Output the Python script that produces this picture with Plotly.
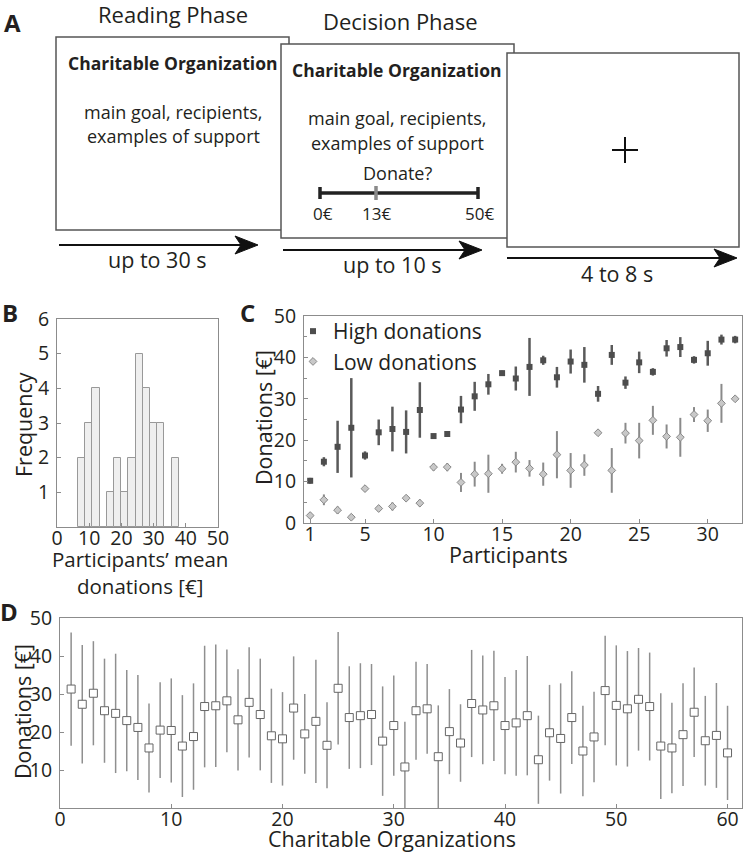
import plotly.graph_objects as go

# ---------------- data ----------------
# Panel B: histogram of participants' mean donations
hist_bin_centers = [7.62, 9.86, 12.10, 14.34, 16.58, 18.82, 21.06, 23.30, 25.54, 27.78, 30.02, 32.26, 34.50, 36.74]
hist_counts = [2, 3, 4, 0, 1, 2, 1, 2, 5, 4, 3, 3, 0, 2]
hist_bin_width = 2.24

# Panel C: per-participant high / low donations (mean, sd)
participants = list(range(1, 33))
high_mean = [10.2, 14.8, 18.4, 23.0, 16.3, 21.9, 22.7, 22.0, 27.3, 21.0, 21.5, 27.4, 30.6, 33.5, 36.2, 34.9,
             37.7, 39.3, 35.2, 39.0, 38.2, 31.2, 40.6, 33.9, 38.8, 36.5, 42.2, 42.5, 39.4, 41.0, 44.3, 44.3]
high_sd = [0.7, 1.1, 6.3, 12.0, 1.0, 3.1, 5.4, 5.2, 6.7, 0.3, 0.6, 3.3, 3.5, 2.5, 0.6, 2.9,
           7.0, 1.1, 2.5, 2.9, 4.3, 1.9, 2.4, 1.5, 2.6, 0.9, 2.0, 2.4, 0.9, 3.0, 1.2, 0.9]
low_mean = [1.8, 5.6, 3.1, 1.4, 8.3, 3.5, 4.0, 6.0, 4.8, 13.5, 13.5, 9.8, 11.8, 11.9, 13.1, 14.7,
            13.2, 11.8, 16.5, 12.7, 14.0, 21.8, 12.7, 21.7, 19.9, 24.8, 20.9, 20.7, 26.2, 24.7, 28.9, 30.0]
low_sd = [0.8, 1.3, 0.9, 0.7, 0.8, 0.8, 1.0, 0.3, 0.9, 0.9, 1.0, 2.3, 3.0, 4.6, 1.2, 2.5,
          2.0, 2.8, 5.7, 4.2, 2.6, 0.3, 5.4, 2.5, 4.3, 3.5, 2.9, 4.7, 1.8, 2.7, 4.7, 0.6]

# Panel D: donations per charitable organization (mean, sd)
organizations = list(range(1, 61))
org_mean = [31.3, 27.3, 30.2, 25.6, 24.9, 23.0, 21.2, 15.8, 20.5, 20.4, 16.3, 18.8, 26.7, 26.9, 28.2,
            23.2, 27.8, 24.6, 19.0, 18.2, 26.3, 19.5, 22.8, 16.5, 31.5, 23.8, 24.3, 24.6, 17.6, 21.7,
            10.8, 25.6, 26.1, 13.5, 20.1, 17.1, 27.5, 25.8, 26.9, 21.7, 22.4, 24.3, 12.7, 19.8, 18.3,
            23.8, 15.0, 18.7, 30.9, 27.0, 26.1, 28.6, 26.7, 16.3, 15.8, 19.3, 25.2, 17.7, 19.1, 14.5]
org_sd = [14.9, 15.6, 13.7, 13.7, 15.7, 13.3, 13.8, 11.7, 12.6, 13.7, 13.4, 14.0, 16.0, 16.1, 13.5,
          13.3, 14.5, 14.7, 12.4, 12.3, 13.6, 10.5, 16.2, 11.3, 14.8, 13.5, 13.8, 13.3, 14.4, 13.2,
          11.9, 12.9, 11.8, 13.5, 11.2, 10.2, 14.1, 14.3, 14.5, 12.8, 13.9, 15.7, 11.6, 12.6, 14.5,
          12.2, 11.9, 11.9, 14.4, 15.8, 15.2, 13.5, 14.2, 13.9, 11.9, 13.5, 11.8, 11.8, 13.8, 12.4]

# ---------------- layout helpers ----------------
W, H = 743, 853
FONT = "Open Sans"
TXT = "#231f20"


def px(x):
    return x / W


def py(y):
    return 1 - y / H


fig = go.Figure()

# Panel B
fig.add_trace(go.Bar(x=hist_bin_centers, y=hist_counts, width=hist_bin_width,
                     marker=dict(color="#efefef", line=dict(color="#999999", width=1)),
                     showlegend=False, xaxis="x", yaxis="y"))

# Panel C
fig.add_trace(go.Scatter(x=participants, y=high_mean, mode="markers", name="High donations",
                         marker=dict(symbol="square", size=6, color="#4d4d4d"),
                         error_y=dict(type="data", array=high_sd, color="#5a5a5a", thickness=2.5, width=0),
                         xaxis="x2", yaxis="y2"))
fig.add_trace(go.Scatter(x=participants, y=low_mean, mode="markers", name="Low donations",
                         marker=dict(symbol="diamond", size=6, color="#c8c8c8", line=dict(color="#888888", width=1)),
                         error_y=dict(type="data", array=low_sd, color="#8a8a8a", thickness=2, width=0),
                         xaxis="x2", yaxis="y2"))

# Panel D
fig.add_trace(go.Scatter(x=organizations, y=org_mean, mode="markers", showlegend=False,
                         marker=dict(symbol="square", size=8, color="white", line=dict(color="#666666", width=1)),
                         error_y=dict(type="data", array=org_sd, color="#8f8f8f", thickness=1.5, width=0),
                         xaxis="x3", yaxis="y3"))

axis_common = dict(showline=True, mirror=True, linecolor="#8c8c8c", linewidth=1, showgrid=False,
                   zeroline=False, ticks="inside", ticklen=4, tickcolor="#8c8c8c", automargin=False,
                   tickfont=dict(family=FONT, size=19.5, color=TXT))
xax = dict(ticklabelstandoff=-6, **axis_common)
yax = dict(ticklabelstandoff=3, **axis_common)

fig.update_layout(
    width=W, height=H, margin=dict(l=0, r=0, t=0, b=0),
    paper_bgcolor="white", plot_bgcolor="white",
    font=dict(family=FONT, color=TXT),
    bargap=0,
    xaxis=dict(domain=[px(57), px(218)], range=[0, 50], tickvals=[0, 10, 20, 30, 40, 50], anchor="y", **xax),
    yaxis=dict(domain=[py(527), py(319)], range=[0, 6], tickvals=[1, 2, 3, 4, 5, 6], anchor="x", **yax),
    xaxis2=dict(domain=[px(304), px(742)], range=[0.55, 32.5], tickvals=[1, 5, 10, 15, 20, 25, 30],
                anchor="y2", **xax),
    yaxis2=dict(domain=[py(523), py(316)], range=[0, 50], tickvals=[0, 10, 20, 30, 40, 50],
                minor=dict(tickvals=[5, 15, 25, 35, 45], ticks="inside", ticklen=3, tickcolor="#8c8c8c"),
                anchor="x2", **yax),
    xaxis3=dict(domain=[px(60), px(742)], range=[0, 61.3], tickvals=[0, 10, 20, 30, 40, 50, 60],
                anchor="y3", **xax),
    yaxis3=dict(domain=[py(808), py(618)], range=[0, 50], tickvals=[10, 20, 30, 40, 50], anchor="x3", **yax),
    legend=dict(x=px(293), y=py(311), xanchor="left", yanchor="top", bgcolor="rgba(0,0,0,0)",
                font=dict(family=FONT, size=21, color=TXT), tracegroupgap=0, itemwidth=30),
)

# ---------------- Panel A schematic ----------------
shapes = []


def rect(x0, y0, x1, y1):
    shapes.append(dict(type="rect", xref="paper", yref="paper", x0=px(x0), x1=px(x1), y0=py(y1), y1=py(y0),
                       fillcolor="white", line=dict(color="#555555", width=1.5), layer="above"))


def seg(x0, y0, x1, y1, color="#111111", width=2):
    shapes.append(dict(type="line", xref="paper", yref="paper", x0=px(x0), x1=px(x1), y0=py(y0), y1=py(y1),
                       line=dict(color=color, width=width)))


def arrow(x0, x1, y, head_len=23, half=9):
    seg(x0, y, x1 - 8, y, width=2.2)
    path = (f"M {px(x1)},{py(y)} L {px(x1 - head_len)},{py(y - half)} "
            f"L {px(x1 - head_len + 6)},{py(y)} L {px(x1 - head_len)},{py(y + half)} Z")
    shapes.append(dict(type="path", xref="paper", yref="paper", path=path,
                       fillcolor="#111111", line=dict(color="#111111", width=1)))


rect(56, 37, 289, 230)
rect(281, 44, 514, 238)
rect(507, 53, 739, 247)

# rating scale
seg(320, 193, 478, 193, color="#222222", width=3.5)
seg(320, 187, 320, 199, color="#222222", width=3.5)
seg(478, 187, 478, 199, color="#222222", width=3.5)
seg(376, 186, 376, 200, color="#8a8a8a", width=3.5)

# fixation cross
seg(612, 150, 638, 150, width=2)
seg(625, 137, 625, 163, width=2)

arrow(59, 258, 245)
arrow(283, 482, 250)
arrow(507, 737, 258)

fig.update_layout(shapes=shapes)

annotations = []


def label(text, x, y, size, bold=False, angle=0, color=TXT):
    annotations.append(dict(text=f"<b>{text}</b>" if bold else text, x=px(x), y=py(y), xref="paper", yref="paper",
                            showarrow=False, xanchor="center", yanchor="middle", textangle=angle,
                            font=dict(family=FONT, size=size, color=color)))


label("A", 13, 22, 24, bold=True)
label("B", 10, 312, 24, bold=True)
label("C", 247, 312, 24, bold=True)
label("D", 9, 611, 24, bold=True)

label("Reading Phase", 173, 14, 22)
label("Decision Phase", 400, 21, 22)

label("Charitable Organization", 173, 63, 17.5, bold=True)
label("main goal, recipients,", 173, 112, 18)
label("examples of support", 173, 136, 18)

label("Charitable Organization", 397, 70, 17.5, bold=True)
label("main goal, recipients,", 397, 118, 18)
label("examples of support", 397, 143, 18)
label("Donate?", 397, 173, 18)
label("0€", 323, 213, 17)
label("13€", 377, 213, 17)
label("50€", 479, 213, 17)

label("up to 30 s", 157, 260, 21.5)
label("up to 10 s", 392, 264, 21.5)
label("4 to 8 s", 617, 273, 21.5)

# axis titles
label("Frequency", 23, 425, 21.5, angle=-90)
label("Participants’ mean<br>donations [€]", 140, 572, 20.5)
label("Donations [€]", 263, 418, 21.5, angle=-90)
label("Participants", 508, 554, 21.5)
label("Donations [€]", 22, 712, 21.5, angle=-90)
label("Charitable Organizations", 392, 838, 21.5)

fig.update_layout(annotations=annotations)

fig.write_html("out.html", config={"displayModeBar": False},
               post_script="document.body.style.margin='0px';document.body.style.overflow='hidden';")
